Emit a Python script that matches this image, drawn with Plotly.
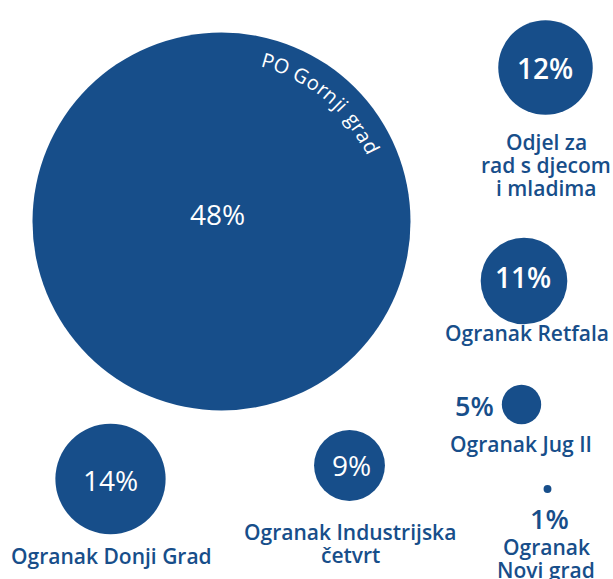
import math
import plotly.graph_objects as go

# ---------------- data ----------------
categories = ["PO Gornji grad", "Odjel za<br>rad s djecom<br>i mladima", "Ogranak Retfala",
              "Ogranak Jug II", "Ogranak<br>Novi grad", "Ogranak Donji Grad",
              "Ogranak Industrijska<br>četvrt"]
shares = [48, 12, 11, 5, 1, 14, 9]

# ---------------- layout (pixel positions of the composition) ----------------
W, H = 613, 579
bubble_x = [221.5, 545.5, 524.0, 521.5, 547.5, 110.5, 349.5]
bubble_y = [221.5, 67.5, 281.0, 404.5, 489.0, 479.0, 465.5]
pct_pos = [(217, 214), (545, 68), (523, 277), (474, 405), (549, 518), (110, 480), (351, 465)]
pct_inside = [True, True, True, False, False, True, True]
pct_weight = [500, 600, 600, 600, 600, 500, 500]
label_pos = [None, (546, 142), (527, 333), (521, 444), (546, 547), (111, 556), (350, 532)]
line_h = 23

BLUE = "#174e8a"
FONT = "Open Sans"
px_per_unit = 189 / 48.0  # radius pixels per percentage point
sizeref = 1 / (2 * px_per_unit)

fig = go.Figure()
fig.add_trace(go.Scatter(
    x=bubble_x, y=bubble_y, mode="markers",
    marker=dict(size=shares, sizemode="diameter", sizeref=sizeref,
                color=BLUE, line=dict(width=0), opacity=1),
    hoverinfo="skip", showlegend=False))

ann = []
for i, v in enumerate(shares):
    x, y = pct_pos[i]
    ann.append(dict(x=x, y=y, text=f"{v}%", showarrow=False, xanchor="center", yanchor="middle",
                    font=dict(family=FONT, size=28 if pct_inside[i] else 27,
                              color="white" if pct_inside[i] else BLUE,
                              weight=pct_weight[i])))
    if label_pos[i] is not None:
        lx, ly = label_pos[i]
        for k, line in enumerate(categories[i].split("<br>")):
            ann.append(dict(x=lx, y=ly + k * line_h, text=line, showarrow=False,
                            xanchor="center", yanchor="middle",
                            font=dict(family=FONT, size=21, color=BLUE, weight=600)))

# curved title along the big bubble
title = categories[0]
adv = {"P": 0.60, "O": 0.78, " ": 0.30, "G": 0.72, "o": 0.60, "r": 0.42, "n": 0.61,
       "j": 0.30, "i": 0.30, "g": 0.56, "a": 0.56, "d": 0.61}
widths = [adv.get(c, 0.55) for c in title]
centers = []
acc = 0
for w in widths:
    centers.append(acc + w / 2)
    acc += w
a0, a1 = 16.0, 63.5
r_text = 167
cx, cy = bubble_x[0], bubble_y[0]
for c, pos in zip(title, centers):
    if c == " ":
        continue
    t = (pos - centers[0]) / (centers[-1] - centers[0])
    ang = a0 + t * (a1 - a0)
    rad = math.radians(ang)
    ann.append(dict(x=cx + r_text * math.sin(rad), y=cy - r_text * math.cos(rad), text=c,
                    showarrow=False, xanchor="center", yanchor="middle", textangle=ang,
                    font=dict(family=FONT, size=20, color="white")))

fig.update_layout(
    width=W, height=H, margin=dict(l=0, r=0, t=0, b=0),
    paper_bgcolor="white", plot_bgcolor="white",
    xaxis=dict(range=[0, W], visible=False, fixedrange=True),
    yaxis=dict(range=[H, 0], visible=False, fixedrange=True),
    annotations=ann)

fig.write_html("out.html", config={"displayModeBar": False},
               post_script="document.body.style.margin='0';document.body.style.overflow='hidden';")
